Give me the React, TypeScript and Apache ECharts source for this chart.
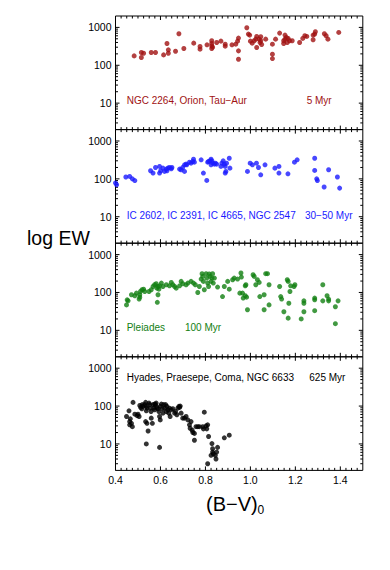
import React, { useEffect, useRef } from "react";
import * as echarts from "echarts";

// (B-V)0, EW
const youngClusters: [number, number][] = [
  [0.483,177],[0.515,217],[0.515,160],[0.525,208],[0.559,217],[0.578,217],[0.614,188],[0.629,376],[0.635,255],[0.635,208],
  [0.667,235],[0.682,679],[0.704,277],[0.748,384],[0.776,313],[0.776,266],[0.807,347],[0.828,443],[0.828,376],[0.828,326],
  [0.828,277],[0.832,300],[0.850,400],[0.869,434],[0.888,361],[0.888,319],[0.918,347],[0.935,361],[0.943,434],[0.947,521],
  [0.947,240],[0.947,144],[0.984,980],[0.991,665],[0.997,626],[1.0,434],[1.008,384],[1.017,443],[1.024,490],[1.028,577],
  [1.028,294],[1.039,490],[1.043,400],[1.046,565],[1.046,443],[1.05,354],[1.068,490],[1.098,361],[1.098,196],[1.098,150],
  [1.112,490],[1.130,707],[1.148,443],[1.148,376],[1.154,626],[1.154,490],[1.160,543],[1.164,400],[1.168,511],[1.174,443],
  [1.186,443],[1.219,400],[1.233,511],[1.242,601],[1.251,577],[1.279,626],[1.279,471],[1.286,665],[1.289,767],[1.329,680],
  [1.337,601],[1.345,490],[1.393,737]
];

const icClusters: [number, number][] = [
  [0.40,78],[0.405,70],[0.446,112],[0.463,116],[0.475,100],[0.486,90],[0.556,164],[0.567,142],[0.578,200],[0.596,213],
  [0.601,164],[0.596,142],[0.611,192],[0.618,157],[0.626,181],[0.633,192],[0.640,200],[0.648,185],[0.651,200],[0.629,164],
  [0.685,181],[0.692,174],[0.699,200],[0.707,235],[0.714,245],[0.707,157],[0.717,235],[0.729,276],[0.736,260],[0.744,288],
  [0.747,331],[0.751,276],[0.781,318],[0.791,142],[0.806,91],[0.810,276],[0.814,288],[0.820,299],[0.825,331],[0.829,299],
  [0.832,260],[0.840,245],[0.844,260],[0.825,235],[0.850,245],[0.869,213],[0.873,260],[0.879,299],[0.884,245],[0.888,213],
  [0.891,157],[0.894,260],[0.906,351],[0.909,192],[0.888,142],[0.987,157],[0.999,260],[1.009,235],[1.027,260],[1.036,200],
  [1.046,128],[1.065,235],[1.109,192],[1.127,213],[1.127,142],[1.167,136],[1.196,276],[1.208,318],[1.286,351],[1.286,167],
  [1.295,100],[1.298,90],[1.328,61],[1.348,174],[1.387,112],[1.397,57]
];

const pleiades: [number, number][] = [
  [0.449,47],[0.452,64],[0.456,60],[0.471,87],[0.486,82],[0.493,96],[0.505,67],[0.508,87],[0.511,106],[0.518,118],
  [0.525,122],[0.530,106],[0.508,75],[0.549,106],[0.559,118],[0.567,144],[0.574,160],[0.581,170],[0.584,130],[0.589,144],
  [0.593,122],[0.596,150],[0.604,177],[0.589,87],[0.586,55],[0.611,144],[0.626,160],[0.640,150],[0.648,184],[0.655,160],
  [0.663,144],[0.670,130],[0.685,150],[0.692,196],[0.699,170],[0.714,160],[0.722,177],[0.736,196],[0.747,177],[0.755,160],
  [0.766,100],[0.773,144],[0.781,226],[0.785,313],[0.788,266],[0.791,196],[0.795,118],[0.803,313],[0.806,240],[0.810,177],
  [0.814,144],[0.817,307],[0.820,266],[0.825,196],[0.829,240],[0.832,313],[0.835,177],[0.840,240],[0.854,139],[0.876,78],
  [0.884,144],[0.899,196],[0.906,122],[0.921,217],[0.928,240],[0.943,226],[0.958,326],[0.960,255],[0.953,96],[0.965,96],
  [0.968,71],[0.977,82],[0.983,75],[0.987,35],[0.980,160],[0.977,150],[1.012,294],[1.017,266],[1.024,160],[1.031,217],
  [1.039,184],[1.042,78],[1.061,35],[1.068,313],[1.076,313],[1.083,160],[1.083,47],[1.061,87],[1.130,144],[1.135,78],
  [1.139,67],[1.149,31],[1.164,217],[1.168,196],[1.171,52],[1.176,106],[1.179,150],[1.168,21],[1.194,144],[1.198,160],
  [1.226,20],[1.238,60],[1.238,52],[1.238,31],[1.286,71],[1.286,64],[1.286,33],[1.322,160],[1.322,60],[1.341,82],
  [1.348,67],[1.348,60],[1.378,42],[1.378,15],[1.390,60]
];

const hyadesPraesepe: [number, number][] = [
  [0.449,53],[0.460,75],[0.463,39],[0.466,46],[0.471,35],[0.475,28.5],[0.463,32],[0.478,125],[0.486,61],[0.496,56],
  [0.500,61],[0.505,53],[0.508,104],[0.512,92],[0.517,85],[0.519,109],[0.522,98],[0.530,109],[0.534,125],[0.537,98],
  [0.540,88],[0.537,75],[0.534,39],[0.540,35],[0.545,22],[0.537,10],[0.549,120],[0.552,109],[0.555,88],[0.558,72],
  [0.559,48],[0.564,35],[0.567,109],[0.570,88],[0.574,113],[0.574,80],[0.578,109],[0.581,120],[0.584,92],[0.589,85],
  [0.593,72],[0.596,8.1],[0.596,53],[0.599,43],[0.599,98],[0.604,113],[0.608,85],[0.611,65],[0.614,109],[0.618,88],
  [0.623,109],[0.626,72],[0.629,98],[0.633,80],[0.637,65],[0.640,88],[0.643,53],[0.648,80],[0.655,85],[0.663,65],
  [0.667,72],[0.673,59],[0.677,88],[0.682,98],[0.685,92],[0.688,100],[0.692,65],[0.699,48],[0.707,48],[0.714,53],
  [0.722,43],[0.729,32],[0.736,39],[0.732,26],[0.741,23],[0.744,20],[0.751,19],[0.751,12.5],[0.758,28.5],[0.766,28.5],
  [0.773,28.5],[0.788,28.5],[0.791,25],[0.803,30],[0.806,25],[0.795,69],[0.810,32],[0.814,15.7],[0.825,5],[0.829,10.2],
  [0.832,7.5],[0.832,6.1],[0.835,5.5],[0.844,5.0],[0.847,4.0],[0.850,6.1],[0.854,8.1],[0.810,3.0],[0.884,14.5],[0.906,17]
];

const panelData = [youngClusters, icClusters, pleiades, hyadesPraesepe];
const panelColors = ["#a01212", "#1a1aff", "#128012", "#000000"];
const panelNames = ["NGC 2264, Orion, Tau\u2212Aur", "IC 2602, IC 2391, IC 4665, NGC 2547", "Pleiades", "Hyades, Praesepe, Coma, NGC 6633"];
const panelAges = ["5 Myr", "30\u221250 Myr", "100 Myr", "625 Myr"];

const xTickLabels = [0.4, 0.6, 0.8, 1.0, 1.2, 1.4];
const yTickLabels = [10, 100, 1000];

const X_MIN = 0.4, X_MAX = 1.5, Y_MIN = 2, Y_MAX = 2000;
const GRID_LEFT = 115.5, GRID_WIDTH = 247.3, PANEL_H = 113.6, FIRST_TOP = 16;
const FONT = '"Liberation Sans", Arial, Helvetica, sans-serif';

const xMinorTicks: number[] = [];
for (let k = 1; k < 44; k++) {
  const v = +(0.4 + k * 0.025).toFixed(3);
  if (!xTickLabels.some((m) => Math.abs(m - v) < 1e-6)) xMinorTicks.push(v);
}
const yMinorTicks: number[] = [];
[1, 10, 100, 1000].forEach((d) => {
  for (let m = 2; m <= 9; m++) {
    const v = m * d;
    if (v > Y_MIN && v < Y_MAX) yMinorTicks.push(v);
  }
});

const tickRender = (params: any, api: any) => {
  const cs = params.coordSys;
  const left = cs.x, right = cs.x + cs.width, top = cs.y, bottom = cs.y + cs.height;
  const children: any[] = [];
  const ln = (x1: number, y1: number, x2: number, y2: number) =>
    children.push({ type: "line", shape: { x1, y1, x2, y2 }, style: { stroke: "#000", lineWidth: 1 } });
  xTickLabels.forEach((v) => {
    const x = api.coord([v, 10])[0];
    ln(x, bottom, x, bottom - 4);
    ln(x, top, x, top + 4);
  });
  xMinorTicks.forEach((v) => {
    const x = api.coord([v, 10])[0];
    ln(x, bottom, x, bottom - 2.5);
    ln(x, top, x, top + 2.5);
  });
  yTickLabels.forEach((v) => {
    const y = api.coord([1, v])[1];
    ln(left, y, left + 4, y);
    ln(right, y, right - 4, y);
  });
  yMinorTicks.forEach((v) => {
    const y = api.coord([1, v])[1];
    ln(left, y, left + 2.5, y);
    ln(right, y, right - 2.5, y);
  });
  return { type: "group", children };
};

export default function App() {
  const ref = useRef<HTMLDivElement>(null);
  useEffect(() => {
    if (!ref.current) return;
    const chart = echarts.init(ref.current, null, { renderer: "svg" });
    const tops = panelData.map((_, i) => FIRST_TOP + i * PANEL_H);
    const textCenters = [100, 215, 327.3, 377];
    const ageX = [306.7, 305, 185, 309.3];
    const graphic: any[] = [];
    panelData.forEach((_, i) => {
      graphic.push({
        type: "text", x: 126.7, y: textCenters[i],
        style: { text: panelNames[i], fill: panelColors[i], font: `10px ${FONT}`, verticalAlign: "middle" },
      });
      graphic.push({
        type: "text", x: ageX[i], y: textCenters[i],
        style: { text: panelAges[i], fill: panelColors[i], font: `10px ${FONT}`, verticalAlign: "middle" },
      });
    });
    graphic.push({
      type: "text", x: 27, y: 238,
      style: { text: "log EW", fill: "#000", font: `19.5px ${FONT}`, verticalAlign: "middle" },
    });
    graphic.push({
      type: "text", x: 206, y: 504,
      style: { text: "(B\u2212V)", fill: "#000", font: `20px ${FONT}`, verticalAlign: "middle" },
    });
    graphic.push({
      type: "text", x: 257.5, y: 510,
      style: { text: "0", fill: "#000", font: `12px ${FONT}`, verticalAlign: "middle" },
    });

    const option: any = {
      animation: false,
      backgroundColor: "#fff",
      grid: tops.map((t) => ({
        left: GRID_LEFT, width: GRID_WIDTH, top: t, height: PANEL_H,
        show: true, borderColor: "#000", borderWidth: 1, backgroundColor: "transparent",
      })),
      xAxis: panelData.map((_, i) => ({
        type: "value", gridIndex: i, min: X_MIN, max: X_MAX, interval: 0.2,
        axisLine: { show: false }, axisTick: { show: false }, splitLine: { show: false },
        axisLabel: {
          show: i === 3, showMaxLabel: false, color: "#000", fontSize: 10.5, fontFamily: FONT, margin: 4,
          formatter: (v: number) => v.toFixed(1),
        },
      })),
      yAxis: panelData.map((_, i) => ({
        type: "log", logBase: 10, gridIndex: i, min: Y_MIN, max: Y_MAX,
        axisLine: { show: false }, axisTick: { show: false }, splitLine: { show: false },
        axisLabel: {
          show: true, showMinLabel: false, showMaxLabel: false, color: "#000", fontSize: 10.5, fontFamily: FONT, margin: 4,
          formatter: (v: number) => String(Math.round(v)),
        },
      })),
      series: [
        ...panelData.map((d, i) => ({
          type: "scatter", xAxisIndex: i, yAxisIndex: i, data: d, symbol: "circle", symbolSize: 5,
          itemStyle: { color: panelColors[i] }, clip: false,
        })),
        ...panelData.map((_, i) => ({
          type: "custom", xAxisIndex: i, yAxisIndex: i, data: [[1, 10]], renderItem: tickRender, clip: false, silent: true,
        })),
      ],
      graphic,
    };
    chart.setOption(option);
    return () => chart.dispose();
  }, []);
  return <div ref={ref} style={{ position: "fixed", left: 0, top: 0, width: 390, height: 570 }} />;
}
